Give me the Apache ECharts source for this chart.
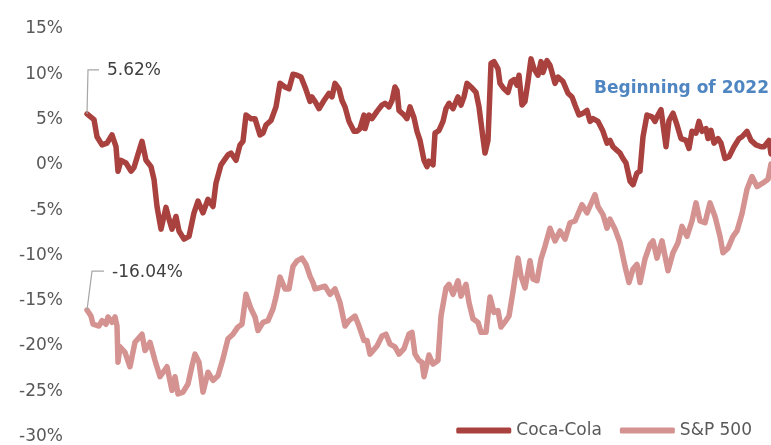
<!DOCTYPE html>
<html><head><meta charset="utf-8">
<script src="https://cdn.jsdelivr.net/npm/echarts@6/dist/echarts.min.js"></script>
<style>html,body{margin:0;padding:0;background:#fff}#c{width:771px;height:445px}</style>
</head><body><div id="c"></div>
<script>
// trading-day index and cumulative return (%)
const ccDays = [0,7,10,15,20,25,29,31,34,39,44,47,50,55,59,64,67,70,74,79,82,85,89,92,97,102,107,111,116,121,126,129,134,141,144,149,153,156,159,164,168,173,176,179,184,189,193,198,202,206,210,214,218,223,225,228,232,237,242,245,248,252,255,258,262,267,270,273,277,278,282,285,290,295,298,302,305,308,310,312,317,320,323,327,330,333,337,340,342,346,348,352,356,359,362,366,371,374,377,380,384,389,392,395,398,401,404,407,411,413,417,421,424,427,430,432,435,438,441,444,447,451,454,456,460,463,468,471,476,481,485,488,492,496,500,503,506,511,516,520,523,526,530,533,536,539,543,546,550,553,556,560,565,568,570,574,579,582,586,590,594,599,602,605,609,612,615,619,621,624,627,631,634,638,642,647,652,655,660,664,669,674,677,682,684];
const ccValues = [5.62,5.0,3.1,2.2,2.4,3.3,2.0,-0.7,0.5,0.2,-0.7,-0.3,0.8,2.6,0.5,-0.2,-1.6,-4.6,-7.1,-4.7,-6.0,-7.1,-5.7,-7.3,-8.2,-7.9,-5.3,-4.0,-5.3,-3.8,-4.6,-2.0,0.0,1.1,1.3,0.5,2.2,2.6,5.5,5.1,5.1,3.3,3.5,4.4,4.9,6.4,9.0,8.6,8.4,10.0,9.9,9.7,8.6,7.0,7.5,7.0,6.2,7.1,7.9,7.5,9.0,8.4,7.1,6.4,4.8,3.7,3.7,4.0,5.5,4.0,5.5,5.1,5.9,6.6,6.8,6.4,7.1,8.6,8.2,6.0,5.5,5.1,6.4,5.2,3.7,2.7,0.5,-0.2,0.4,0.0,3.5,3.8,4.8,6.2,6.8,6.2,7.5,6.6,7.5,9.0,8.6,8.0,6.4,3.8,1.3,2.7,11.2,11.4,10.6,9.0,8.4,8.0,9.2,9.4,8.8,9.9,6.6,7.0,9.2,11.7,10.6,9.9,11.4,10.2,11.5,11.0,9.0,9.7,9.2,7.9,7.5,6.6,5.5,5.7,6.0,4.8,5.1,4.8,3.7,2.4,2.7,2.0,1.6,1.3,0.7,0.2,-1.8,-2.2,-0.9,-0.7,3.1,5.5,5.3,4.8,5.3,6.1,2.0,4.9,5.7,4.4,2.9,2.7,1.8,3.7,3.5,4.8,3.7,4.0,2.9,3.8,2.4,2.9,2.4,0.7,0.9,2.0,2.9,3.1,3.7,2.7,2.2,2.0,2.0,2.7,1.2];
const spDays = [0,4,6,12,15,19,21,25,28,30,31,33,38,43,48,55,58,63,68,73,80,85,88,91,96,101,105,108,112,116,121,126,131,136,141,146,151,155,159,164,168,171,176,181,186,189,193,198,202,206,210,215,219,223,226,228,232,238,243,248,253,258,262,268,272,277,280,283,290,295,299,303,308,312,317,322,325,328,332,335,337,339,342,346,351,354,359,362,366,369,371,374,379,382,386,391,394,399,403,407,411,414,419,422,426,431,434,438,443,446,450,454,458,463,468,473,478,483,488,490,495,500,508,511,516,520,523,528,533,538,542,546,550,553,558,563,566,570,575,581,586,591,595,600,605,609,613,618,623,628,633,636,641,646,650,655,660,665,670,676,681,684];
const spValues = [-16.04,-16.7,-17.6,-17.8,-17.2,-17.6,-16.8,-17.4,-16.8,-17.8,-21.8,-20.1,-20.7,-22.3,-19.6,-18.7,-20.5,-19.6,-21.6,-23.4,-22.3,-24.9,-23.4,-25.3,-25.1,-24.2,-22.2,-20.9,-21.8,-25.1,-22.9,-23.8,-23.3,-21.4,-19.2,-18.7,-17.9,-17.6,-14.3,-15.9,-16.8,-18.3,-17.4,-17.2,-15.9,-14.6,-12.4,-13.7,-13.7,-11.2,-10.6,-10.3,-11.0,-12.3,-13.0,-13.7,-13.6,-13.4,-14.3,-13.7,-15.2,-17.8,-17.2,-16.7,-17.8,-19.4,-19.4,-20.9,-20.0,-18.9,-18.7,-19.8,-20.1,-20.9,-20.3,-18.7,-18.5,-20.9,-21.6,-21.8,-23.4,-23.2,-21.0,-22.0,-21.6,-16.7,-13.6,-13.2,-14.3,-13.4,-12.8,-14.5,-13.2,-15.2,-17.0,-17.4,-18.5,-18.5,-14.6,-16.3,-16.1,-17.9,-17.2,-16.7,-14.0,-10.3,-12.3,-13.6,-10.6,-12.6,-12.8,-10.4,-9.0,-7.0,-8.4,-7.3,-8.2,-6.4,-6.2,-6.4,-4.4,-5.3,-3.3,-4.6,-5.5,-7.0,-6.0,-7.1,-8.6,-11.2,-13.0,-11.5,-11.0,-13.0,-10.4,-8.8,-8.4,-10.3,-8.4,-11.7,-9.7,-8.6,-6.8,-7.9,-6.2,-4.2,-6.2,-6.4,-4.2,-5.7,-7.9,-9.7,-9.2,-7.9,-7.3,-5.4,-2.7,-1.3,-2.4,-2.0,-1.6,0.1];
const seriesNames = ['Coca-Cola','S&P 500'];
const yTicks = {min:-30, max:15, step:5};
const noteText = 'Beginning of 2022';

const ccColor = '#a9423f', spColor = '#d49391';
const chart = echarts.init(document.getElementById('c'));
const pairs = (d, v) => d.map((t, i) => [t, v[i]]);
chart.setOption({
  animation: false,
  grid: {left: 87, right: 0, top: 29, bottom: 6},
  xAxis: {type: 'value', min: 0, max: ccDays[ccDays.length-1], show: false},
  yAxis: {type: 'value', min: yTicks.min, max: yTicks.max, interval: yTicks.step,
    axisLine: {show: false}, axisTick: {show: false}, splitLine: {show: false},
    axisLabel: {formatter: '{value}%', color: '#595959', fontSize: 17, fontFamily: 'DejaVu Sans', margin: 24}},
  legend: {right: 14, top: 417, icon: 'roundRect', itemWidth: 55, itemHeight: 6, itemGap: 18,
    textStyle: {color: '#595959', fontSize: 17, fontFamily: 'DejaVu Sans'},
    data: seriesNames},
  series: [
    {name: seriesNames[0], type: 'line', data: pairs(ccDays, ccValues), showSymbol: false, color: ccColor,
      lineStyle: {width: 5.5, color: ccColor, cap: 'round', join: 'round'}, z: 3},
    {name: seriesNames[1], type: 'line', data: pairs(spDays, spValues), showSymbol: false, color: spColor,
      lineStyle: {width: 5.5, color: spColor, cap: 'round', join: 'round'}, z: 2}
  ]
});
const p1 = chart.convertToPixel({xAxisIndex: 0, yAxisIndex: 0}, [ccDays[0], ccValues[0]]);
const p2 = chart.convertToPixel({xAxisIndex: 0, yAxisIndex: 0}, [spDays[0], spValues[0]]);
const fmt = v => v.toFixed(2) + '%';
chart.setOption({graphic: [
  {type: 'polyline', shape: {points: [[p1[0], p1[1]], [p1[0]+1, p1[1]-44], [p1[0]+12, p1[1]-44]]},
    style: {stroke: '#a6a6a6', lineWidth: 1.2, fill: null}, z: 10},
  {type: 'text', x: p1[0]+20, y: p1[1]-43, style: {text: fmt(ccValues[0]), fill: '#404040', fontSize: 17, fontFamily: 'DejaVu Sans', verticalAlign: 'middle'}, z: 10},
  {type: 'polyline', shape: {points: [[p2[0], p2[1]], [p2[0]+5, p2[1]-39], [p2[0]+17, p2[1]-39]]},
    style: {stroke: '#a6a6a6', lineWidth: 1.2, fill: null}, z: 10},
  {type: 'text', x: p2[0]+25, y: p2[1]-38, style: {text: fmt(spValues[0]), fill: '#404040', fontSize: 17, fontFamily: 'DejaVu Sans', verticalAlign: 'middle'}, z: 10},
  {type: 'text', right: 2, top: 80, style: {text: noteText, fill: '#4f86c1', fontSize: 17, fontWeight: 'bold', fontFamily: 'DejaVu Sans'}, z: 10}
]});
</script></body></html>
